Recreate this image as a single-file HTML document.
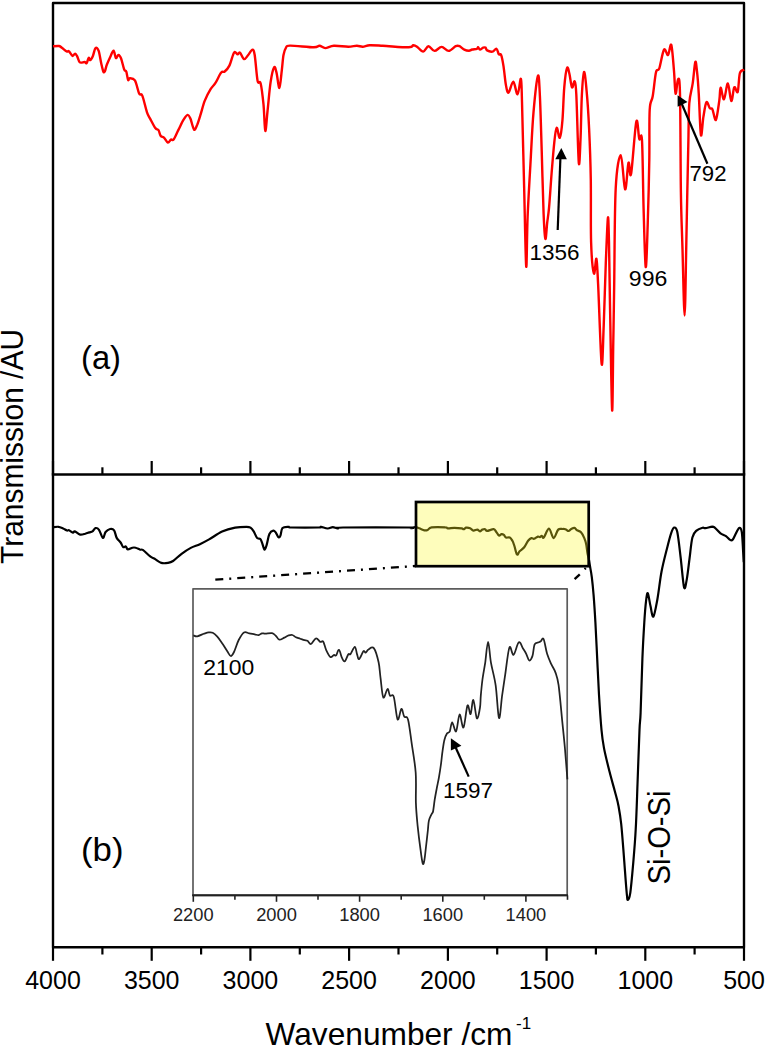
<!DOCTYPE html>
<html><head><meta charset="utf-8"><style>
html,body{margin:0;padding:0;background:#fff;}
svg{display:block;}
text{font-family:"Liberation Sans",sans-serif;}
</style></head><body>
<svg width="765" height="1050" viewBox="0 0 765 1050">
<rect width="765" height="1050" fill="#fff"/>
<!-- frame -->
<g stroke="#000" stroke-width="2.4" fill="none" stroke-linecap="square" stroke-linejoin="round">
<rect x="53" y="3" width="691" height="944.3"/>
<line x1="53" y1="474.5" x2="744" y2="474.5"/>
</g>
<g stroke="#000" stroke-width="2.2"><line x1="53.0" y1="947.3" x2="53.0" y2="960.8"/><line x1="53.0" y1="474.5" x2="53.0" y2="461.0"/><line x1="102.4" y1="947.3" x2="102.4" y2="954.5"/><line x1="102.4" y1="474.5" x2="102.4" y2="467.3"/><line x1="151.7" y1="947.3" x2="151.7" y2="960.8"/><line x1="151.7" y1="474.5" x2="151.7" y2="461.0"/><line x1="201.1" y1="947.3" x2="201.1" y2="954.5"/><line x1="201.1" y1="474.5" x2="201.1" y2="467.3"/><line x1="250.4" y1="947.3" x2="250.4" y2="960.8"/><line x1="250.4" y1="474.5" x2="250.4" y2="461.0"/><line x1="299.8" y1="947.3" x2="299.8" y2="954.5"/><line x1="299.8" y1="474.5" x2="299.8" y2="467.3"/><line x1="349.1" y1="947.3" x2="349.1" y2="960.8"/><line x1="349.1" y1="474.5" x2="349.1" y2="461.0"/><line x1="398.5" y1="947.3" x2="398.5" y2="954.5"/><line x1="398.5" y1="474.5" x2="398.5" y2="467.3"/><line x1="447.9" y1="947.3" x2="447.9" y2="960.8"/><line x1="447.9" y1="474.5" x2="447.9" y2="461.0"/><line x1="497.2" y1="947.3" x2="497.2" y2="954.5"/><line x1="497.2" y1="474.5" x2="497.2" y2="467.3"/><line x1="546.6" y1="947.3" x2="546.6" y2="960.8"/><line x1="546.6" y1="474.5" x2="546.6" y2="461.0"/><line x1="595.9" y1="947.3" x2="595.9" y2="954.5"/><line x1="595.9" y1="474.5" x2="595.9" y2="467.3"/><line x1="645.3" y1="947.3" x2="645.3" y2="960.8"/><line x1="645.3" y1="474.5" x2="645.3" y2="461.0"/><line x1="694.6" y1="947.3" x2="694.6" y2="954.5"/><line x1="694.6" y1="474.5" x2="694.6" y2="467.3"/><line x1="744.0" y1="947.3" x2="744.0" y2="960.8"/><line x1="744.0" y1="474.5" x2="744.0" y2="461.0"/></g>
<g font-size="25" fill="#000"><text x="53.0" y="988.5" text-anchor="middle">4000</text><text x="151.7" y="988.5" text-anchor="middle">3500</text><text x="250.4" y="988.5" text-anchor="middle">3000</text><text x="349.1" y="988.5" text-anchor="middle">2500</text><text x="447.9" y="988.5" text-anchor="middle">2000</text><text x="546.6" y="988.5" text-anchor="middle">1500</text><text x="645.3" y="988.5" text-anchor="middle">1000</text><text x="744.0" y="988.5" text-anchor="middle">500</text></g>
<!-- axis titles -->
<text x="265.5" y="1045" font-size="31.3" textLength="247" lengthAdjust="spacingAndGlyphs">Wavenumber /cm</text>
<text x="516" y="1028.5" font-size="17">-1</text>
<text transform="translate(23.4,564) rotate(-90)" font-size="32" textLength="235" lengthAdjust="spacingAndGlyphs">Transmission /AU</text>
<!-- red spectrum -->
<path d="M53.1 46.3 C54.1 46.2 57.5 45.8 58.9 46.0 C60.3 46.2 60.2 46.6 61.5 47.5 C62.8 48.4 65.5 50.9 66.7 51.5 C67.9 52.1 67.8 50.5 68.8 51.2 C69.8 51.9 71.5 55.5 72.5 55.9 C73.5 56.3 74.3 53.5 75.1 53.6 C75.9 53.7 76.4 54.9 77.2 56.4 C78.0 57.9 78.6 61.5 79.8 62.4 C81.0 63.3 83.4 61.9 84.5 62.0 C85.6 62.1 85.9 63.9 86.6 63.2 C87.3 62.5 88.1 58.3 88.7 57.8 C89.3 57.3 89.6 60.4 90.3 60.1 C91.0 59.8 92.0 57.9 92.9 55.9 C93.8 53.9 94.5 49.0 95.5 48.1 C96.5 47.2 97.6 48.2 98.6 50.7 C99.5 53.2 100.4 59.7 101.2 63.2 C102.0 66.7 102.7 70.3 103.3 71.6 C103.9 72.9 104.3 72.3 104.9 71.1 C105.5 69.9 106.0 66.8 107.0 64.3 C108.0 61.8 109.6 58.2 110.7 55.9 C111.8 53.6 112.7 50.4 113.6 50.7 C114.5 51.1 115.1 57.3 115.9 58.0 C116.7 58.7 117.6 54.8 118.5 54.9 C119.4 55.0 120.1 56.1 121.1 58.5 C122.0 60.9 123.3 67.3 124.2 69.5 C125.1 71.7 125.7 69.9 126.3 71.6 C126.9 73.3 127.5 78.8 128.1 79.9 C128.7 81.0 128.6 78.2 129.7 78.3 C130.8 78.4 133.3 77.9 134.9 80.4 C136.5 82.9 137.9 91.0 139.1 93.5 C140.3 96.0 141.0 92.5 142.3 95.6 C143.6 98.7 145.7 108.5 147.0 112.3 C148.3 116.1 148.7 116.0 150.1 118.6 C151.5 121.2 153.9 126.1 155.3 128.0 C156.7 129.9 157.6 128.8 158.5 130.1 C159.4 131.4 159.7 134.5 160.6 135.8 C161.5 137.1 163.0 136.8 164.2 137.9 C165.4 139.0 166.8 142.3 167.9 142.6 C169.0 142.9 170.1 140.0 171.0 139.5 C171.9 139.0 172.4 141.1 173.6 139.5 C174.8 137.9 176.6 133.4 178.3 130.1 C180.0 126.8 182.0 122.1 183.6 119.6 C185.2 117.1 186.6 115.1 187.7 114.9 C188.8 114.7 189.3 116.2 190.4 118.6 C191.5 121.0 192.9 128.5 194.0 129.5 C195.1 130.5 196.1 127.1 197.2 124.8 C198.2 122.5 199.1 119.4 200.3 115.4 C201.6 111.4 203.0 105.3 204.7 100.9 C206.4 96.5 208.8 92.0 210.6 89.1 C212.4 86.1 213.5 86.0 215.3 83.2 C217.1 80.5 219.6 74.5 221.2 72.6 C222.8 70.6 223.3 72.7 224.7 71.5 C226.1 70.3 227.8 68.8 229.4 65.6 C231.0 62.4 232.7 54.5 234.1 52.6 C235.5 50.7 236.6 54.4 237.6 54.4 C238.6 54.4 238.9 51.8 240.0 52.6 C241.1 53.4 242.7 58.7 244.1 59.1 C245.5 59.5 246.8 56.6 248.2 55.0 C249.6 53.4 251.3 49.7 252.4 49.7 C253.5 49.7 253.8 49.8 254.7 55.0 C255.6 60.2 256.6 76.2 257.6 80.9 C258.6 85.6 259.6 79.3 260.6 83.2 C261.6 87.1 262.7 96.5 263.5 104.4 C264.3 112.4 264.6 129.9 265.3 130.9 C266.0 131.9 266.7 118.4 267.6 110.3 C268.5 102.2 269.5 89.2 270.6 82.1 C271.7 74.9 273.1 69.0 274.1 67.4 C275.1 65.8 275.6 69.2 276.5 72.6 C277.4 76.0 278.5 88.3 279.4 87.9 C280.3 87.5 281.1 75.8 281.8 70.3 C282.5 64.8 282.8 58.7 283.5 55.0 C284.2 51.3 284.8 49.5 285.9 47.9 C287.0 46.3 285.4 45.7 290.0 45.6 C294.6 45.5 308.9 47.3 313.8 47.3 C318.7 47.3 317.6 45.7 319.5 45.8 C321.4 45.9 322.9 48.1 325.3 48.1 C327.7 48.1 330.1 46.0 333.9 45.8 C337.7 45.6 344.5 46.7 348.3 46.7 C352.1 46.7 354.5 45.8 356.9 45.8 C359.3 45.8 360.5 46.8 362.7 46.7 C364.9 46.6 366.4 45.4 369.8 45.2 C373.2 45.1 376.3 45.4 382.8 45.8 C389.3 46.1 403.5 47.4 408.6 47.3 C413.7 47.2 411.9 45.3 413.3 45.2 C414.8 45.1 415.7 45.8 417.3 46.9 C418.9 48.0 421.3 51.7 423.2 51.6 C425.1 51.5 426.6 46.3 428.5 46.2 C430.4 46.1 432.3 50.8 434.5 50.9 C436.7 51.0 439.2 46.9 441.6 46.9 C444.0 46.9 446.2 51.0 448.6 50.9 C451.0 50.8 453.9 47.0 455.7 46.2 C457.5 45.4 458.2 45.6 459.6 46.2 C461.0 46.8 462.7 48.9 464.3 49.6 C465.9 50.4 467.7 50.7 469.0 50.7 C470.3 50.7 470.9 49.8 472.2 49.5 C473.5 49.2 475.9 49.2 476.9 48.8 C477.9 48.4 477.6 47.2 478.1 47.3 C478.6 47.4 479.2 49.5 480.0 49.6 C480.8 49.7 482.2 47.9 483.1 47.6 C484.0 47.3 484.8 47.1 485.5 47.6 C486.2 48.1 485.9 49.7 487.1 50.4 C488.3 51.1 490.9 51.9 492.5 51.6 C494.1 51.3 495.4 48.3 496.5 48.8 C497.6 49.2 498.0 53.2 498.8 54.3 C499.6 55.3 500.4 53.1 501.2 55.1 C502.0 57.1 502.7 61.1 503.5 66.1 C504.3 71.1 505.1 80.5 505.9 84.9 C506.7 89.3 507.3 93.2 508.5 92.7 C509.7 92.2 511.8 81.5 513.3 81.8 C514.8 82.1 516.3 94.8 517.6 94.3 C518.9 93.8 520.2 77.5 520.9 78.8 C521.6 80.1 521.5 84.1 522.0 101.9 C522.5 119.7 523.4 158.3 524.1 185.7 C524.8 213.1 525.6 261.1 526.2 266.3 C526.8 271.5 526.9 233.9 527.6 217.0 C528.3 200.1 529.4 182.1 530.4 164.7 C531.4 147.3 532.2 127.2 533.5 112.4 C534.8 97.6 536.8 78.7 537.9 76.0 C539.0 73.3 539.3 83.7 539.9 96.1 C540.5 108.5 541.1 130.8 541.7 150.4 C542.3 170.0 543.0 198.8 543.6 213.6 C544.2 228.3 544.8 237.4 545.4 238.9 C546.0 240.4 546.6 227.8 547.2 222.7 C547.8 217.6 548.2 216.6 549.0 208.2 C549.8 199.8 550.8 183.2 551.7 172.0 C552.6 160.8 553.6 148.7 554.4 141.3 C555.2 133.9 555.8 128.4 556.7 127.8 C557.6 127.2 558.8 139.1 559.8 137.7 C560.8 136.3 561.8 128.0 562.5 119.6 C563.2 111.2 563.5 95.7 564.3 87.1 C565.0 78.5 566.1 70.3 567.0 68.1 C567.9 65.9 568.6 70.5 569.4 73.7 C570.2 76.9 571.1 86.1 572.0 87.4 C572.9 88.7 573.9 80.2 574.6 81.4 C575.3 82.6 575.6 80.7 576.3 94.3 C577.0 107.9 578.1 155.7 578.8 162.8 C579.5 169.9 580.1 148.5 580.6 137.1 C581.1 125.7 581.3 105.1 581.9 94.3 C582.5 83.5 583.2 72.6 584.0 72.0 C584.8 71.4 585.8 81.4 586.6 90.8 C587.5 100.2 588.4 113.7 589.1 128.5 C589.8 143.3 590.5 161.0 590.8 179.9 C591.1 198.8 590.6 226.4 591.1 242.0 C591.6 257.6 593.0 270.7 593.9 273.5 C594.8 276.3 595.7 257.1 596.4 258.8 C597.1 260.6 597.2 266.5 598.1 284.0 C599.0 301.5 600.7 356.7 601.6 363.7 C602.5 370.7 603.0 342.7 603.7 325.9 C604.4 309.1 605.1 281.0 605.8 263.0 C606.5 245.0 607.4 221.3 607.9 217.8 C608.4 214.3 608.6 227.5 609.0 242.0 C609.4 256.5 609.5 277.0 610.0 305.0 C610.5 333.0 611.6 402.9 612.1 409.9 C612.6 416.9 612.9 367.9 613.2 346.9 C613.6 325.9 613.8 310.4 614.2 284.0 C614.6 257.6 614.6 210.0 615.7 188.5 C616.8 167.0 619.2 155.0 620.8 155.1 C622.4 155.2 623.8 188.0 625.1 189.3 C626.4 190.6 627.5 165.4 628.5 162.8 C629.5 160.2 629.8 180.8 631.1 173.9 C632.4 167.1 634.9 127.5 636.3 121.7 C637.7 115.9 638.3 135.9 639.3 139.0 C640.2 142.1 641.3 128.7 642.0 140.3 C642.7 151.9 643.0 187.5 643.6 208.6 C644.2 229.7 645.0 264.2 645.7 266.9 C646.4 269.6 647.1 242.6 647.7 224.8 C648.3 207.0 649.0 179.2 649.3 160.0 C649.6 140.8 649.1 120.3 649.7 109.7 C650.3 99.1 651.7 102.5 652.7 96.3 C653.8 90.1 654.9 77.0 656.0 72.3 C657.1 67.6 658.0 72.1 659.3 68.3 C660.6 64.5 662.5 51.9 664.0 49.7 C665.5 47.5 666.8 55.8 668.0 55.0 C669.2 54.2 670.3 42.3 671.3 45.0 C672.3 47.7 673.3 62.9 674.0 71.0 C674.7 79.1 674.9 92.4 675.6 93.7 C676.3 95.0 677.3 79.0 678.0 79.0 C678.7 79.0 679.5 74.8 680.0 93.7 C680.5 112.6 680.5 166.5 680.9 192.4 C681.3 218.3 681.9 228.6 682.5 249.1 C683.1 269.6 684.0 315.5 684.6 315.5 C685.2 315.5 685.8 269.6 686.2 249.1 C686.7 228.6 686.9 210.6 687.3 192.4 C687.7 174.2 688.1 154.9 688.4 140.0 C688.7 125.1 688.6 112.6 689.3 103.2 C690.0 93.8 691.7 90.3 692.7 83.4 C693.7 76.5 694.6 64.0 695.3 62.0 C696.0 60.0 696.4 66.2 697.0 71.4 C697.6 76.6 698.1 82.3 698.7 92.9 C699.4 103.5 700.1 130.9 700.9 134.9 C701.7 138.9 702.5 122.3 703.4 116.9 C704.3 111.5 705.3 103.7 706.4 102.3 C707.5 100.9 708.9 107.1 709.9 108.3 C710.9 109.5 711.4 107.3 712.4 109.2 C713.4 111.1 714.8 121.3 715.9 119.9 C717.0 118.5 718.5 106.0 719.3 100.6 C720.1 95.2 719.8 87.9 720.6 87.7 C721.4 87.5 722.8 100.0 724.0 99.3 C725.2 98.6 726.7 83.1 727.9 83.4 C729.1 83.7 730.2 100.3 731.3 101.0 C732.4 101.7 733.2 88.8 734.3 87.3 C735.4 85.8 736.8 94.3 737.7 92.0 C738.6 89.7 738.8 76.9 739.9 73.2 C741.0 69.5 743.5 70.3 744.2 69.7" fill="none" stroke="#f00" stroke-width="2.4" stroke-linejoin="round"/>
<!-- black spectrum -->
<path d="M53.3 527.2 C54.2 527.1 56.9 526.6 58.5 526.8 C60.1 527.0 61.7 527.9 63.1 528.5 C64.5 529.1 66.0 530.2 67.0 530.5 C68.0 530.8 68.0 529.9 69.0 530.3 C70.0 530.7 71.9 532.5 72.9 532.7 C73.9 532.9 73.6 531.1 74.8 531.4 C76.0 531.7 78.3 534.2 80.1 534.6 C81.8 535.0 83.8 534.1 85.3 533.7 C86.8 533.3 88.0 532.8 89.2 532.4 C90.4 532.0 91.5 532.1 92.5 531.4 C93.5 530.7 94.4 528.4 95.5 528.1 C96.6 527.8 97.8 528.2 99.0 529.8 C100.2 531.4 101.8 537.5 102.9 537.9 C104.0 538.3 104.4 533.5 105.6 532.0 C106.8 530.5 108.7 529.3 110.1 529.0 C111.5 528.7 113.0 528.8 114.1 530.3 C115.2 531.8 115.6 535.9 116.7 537.9 C117.8 539.9 119.5 541.0 120.6 542.5 C121.7 544.0 122.3 546.5 123.2 547.1 C124.1 547.8 125.0 546.0 125.8 546.4 C126.6 546.8 126.7 549.2 127.8 549.4 C128.9 549.6 131.1 548.0 132.4 547.7 C133.7 547.4 134.3 547.4 135.6 547.7 C136.9 548.0 139.0 549.3 140.2 549.7 C141.4 550.1 141.1 548.8 142.8 549.9 C144.5 551.0 148.1 554.8 150.2 556.4 C152.3 558.0 153.7 558.3 155.5 559.4 C157.3 560.5 159.2 562.3 161.3 562.9 C163.4 563.5 165.9 563.2 167.9 562.9 C169.9 562.6 170.8 562.5 173.1 561.0 C175.4 559.5 178.6 556.0 181.6 553.8 C184.6 551.6 187.8 549.5 190.8 547.9 C193.9 546.3 196.9 545.6 199.9 544.2 C202.9 542.8 205.4 541.5 209.1 539.4 C212.8 537.3 217.8 533.6 222.1 531.6 C226.4 529.6 231.1 528.4 235.2 527.6 C239.3 526.8 243.9 526.8 246.5 526.8 C249.1 526.8 249.3 526.9 250.5 527.7 C251.7 528.5 252.6 529.7 253.7 531.4 C254.8 533.1 255.9 536.6 257.0 537.9 C258.1 539.2 259.4 538.1 260.3 539.0 C261.2 539.9 261.5 541.3 262.2 543.1 C262.9 544.9 263.8 549.5 264.6 549.7 C265.4 549.9 266.0 547.0 266.8 544.4 C267.6 541.8 268.3 536.3 269.4 534.0 C270.5 531.7 272.2 530.9 273.3 530.7 C274.4 530.5 275.0 531.6 275.9 532.7 C276.8 533.8 277.8 536.9 278.6 537.3 C279.4 537.7 279.9 536.8 280.5 535.3 C281.1 533.8 281.2 529.5 282.5 528.1 C283.8 526.7 286.9 526.9 288.4 526.8 C289.9 526.7 286.6 527.4 291.6 527.5 C296.6 527.6 313.5 527.6 318.4 527.5 C323.3 527.4 319.5 526.6 321.0 526.8 C322.5 527.0 325.6 528.4 327.6 528.5 C329.6 528.6 331.1 527.2 332.8 527.2 C334.5 527.2 336.1 528.5 337.8 528.5 C339.5 528.5 331.2 527.7 343.0 527.5 C354.8 527.3 397.1 527.4 408.4 527.5 C419.7 527.6 409.9 528.2 411.0 528.1 C412.1 528.0 413.8 527.0 415.2 527.0 C416.6 527.0 417.7 527.8 419.2 528.3 C420.7 528.8 423.0 530.0 424.4 530.3 C425.8 530.6 426.4 530.5 427.6 530.0 C428.8 529.5 428.7 527.8 431.6 527.4 C434.6 527.0 442.6 527.2 445.3 527.4 C448.0 527.5 446.4 528.2 447.9 528.3 C449.4 528.4 452.1 527.9 454.4 527.9 C456.7 527.9 460.1 528.1 461.6 528.3 C463.1 528.5 462.8 529.3 463.6 529.2 C464.4 529.1 465.1 527.9 466.2 527.7 C467.3 527.6 468.9 527.8 470.1 528.3 C471.3 528.8 472.2 530.4 473.4 530.6 C474.6 530.8 476.2 529.5 477.3 529.6 C478.4 529.7 479.0 531.3 479.9 531.3 C480.8 531.3 481.6 530.0 482.5 529.6 C483.4 529.2 484.4 529.0 485.2 529.2 C486.0 529.4 485.7 530.9 487.1 530.9 C488.5 530.9 492.2 529.0 493.7 529.2 C495.2 529.4 495.4 530.9 496.3 531.9 C497.2 532.9 498.0 535.1 498.9 535.5 C499.8 535.9 500.7 534.3 501.5 534.2 C502.3 534.1 503.2 534.4 503.9 534.9 C504.6 535.4 504.9 537.1 505.9 537.5 C506.9 537.9 508.7 537.0 509.8 537.5 C510.9 538.0 511.6 539.4 512.4 540.8 C513.2 542.2 513.6 543.7 514.4 546.0 C515.2 548.3 516.1 553.6 517.0 554.5 C517.9 555.4 518.4 552.4 519.6 551.2 C520.8 550.0 522.8 549.0 524.2 547.3 C525.6 545.6 526.9 542.3 528.1 540.8 C529.3 539.3 530.4 538.4 531.4 538.1 C532.4 537.8 532.9 539.0 534.0 538.8 C535.1 538.5 536.9 536.9 537.9 536.6 C538.9 536.3 539.2 537.2 539.9 537.1 C540.5 537.0 541.1 535.7 541.8 535.8 C542.4 535.9 542.6 538.7 543.8 537.5 C545.0 536.3 547.4 528.6 549.0 528.7 C550.6 528.8 552.1 538.0 553.6 538.1 C555.1 538.2 556.7 531.1 558.2 529.6 C559.7 528.1 561.5 529.1 562.7 529.0 C563.9 528.9 564.4 528.9 565.4 529.2 C566.4 529.5 567.6 531.0 568.6 531.0 C569.6 531.0 570.2 529.5 571.2 529.0 C572.2 528.5 573.5 527.7 574.5 527.9 C575.5 528.1 576.0 529.6 577.1 530.3 C578.2 531.0 579.8 531.0 581.0 532.3 C582.2 533.6 583.4 536.0 584.3 538.1 C585.2 540.2 585.8 542.1 586.3 544.7 C586.8 547.3 587.1 551.2 587.6 553.8 C588.1 556.3 588.6 557.9 589.0 560.0 C589.4 562.1 589.5 563.4 590.0 566.3 C590.5 569.1 591.2 572.3 591.8 577.1 C592.4 581.9 593.0 587.7 593.6 595.2 C594.2 602.8 594.8 611.8 595.4 622.4 C596.0 633.0 596.6 646.5 597.2 658.6 C597.8 670.7 598.3 682.9 599.0 694.8 C599.7 706.7 600.7 721.1 601.5 730.0 C602.3 738.9 602.7 741.2 604.0 748.1 C605.3 755.0 607.7 764.4 609.5 771.6 C611.3 778.8 613.4 785.8 614.9 791.5 C616.4 797.2 617.5 800.6 618.5 806.0 C619.5 811.4 620.3 815.6 621.2 824.0 C622.1 832.4 623.0 845.1 623.9 856.6 C624.8 868.1 626.0 885.6 626.7 892.8 C627.4 900.0 627.3 900.0 627.9 900.0 C628.5 900.0 629.4 898.5 630.3 892.8 C631.1 887.1 632.1 876.2 633.0 865.7 C633.9 855.2 635.0 843.1 635.7 829.5 C636.5 815.9 636.9 800.9 637.5 784.3 C638.1 767.7 639.0 741.9 639.5 730.0 C640.0 718.1 640.1 724.8 640.6 712.9 C641.1 701.0 641.8 673.7 642.4 658.6 C643.0 643.5 643.7 632.0 644.3 622.4 C644.9 612.8 645.5 605.6 646.1 600.7 C646.7 595.8 647.1 592.3 647.8 593.2 C648.5 594.1 649.6 602.2 650.5 606.1 C651.4 610.0 652.2 617.8 653.4 616.6 C654.5 615.5 656.0 606.7 657.4 599.2 C658.8 591.7 659.9 580.3 661.5 571.8 C663.1 563.3 665.4 554.8 667.0 548.4 C668.6 542.0 669.9 536.8 671.1 533.3 C672.3 529.8 673.1 527.8 674.1 527.6 C675.1 527.4 676.2 526.9 677.3 532.0 C678.4 537.1 679.6 548.8 680.7 558.0 C681.8 567.2 683.1 584.1 684.1 587.5 C685.1 590.9 686.0 583.5 686.9 578.6 C687.8 573.7 688.7 564.9 689.6 558.0 C690.5 551.1 691.2 542.1 692.4 537.5 C693.5 532.9 694.8 532.2 696.5 530.6 C698.2 529.0 701.1 528.2 702.6 527.8 C704.1 527.4 703.8 528.3 705.4 528.1 C707.0 527.9 710.7 526.8 712.3 526.7 C713.9 526.7 713.6 526.7 715.0 527.8 C716.4 528.9 718.7 531.9 720.5 533.3 C722.3 534.7 724.4 535.0 726.0 536.1 C727.6 537.2 729.0 539.3 730.1 539.9 C731.2 540.5 731.8 540.7 732.8 539.5 C733.8 538.3 735.2 534.6 736.3 532.6 C737.4 530.6 738.5 527.9 739.4 527.8 C740.3 527.7 741.2 528.1 741.8 532.0 C742.4 535.9 742.8 546.2 743.1 551.2 C743.4 556.2 743.7 560.4 743.8 562.2" fill="none" stroke="#000" stroke-width="2.2" stroke-linejoin="round"/>
<!-- yellow box -->
<defs><clipPath id="yb"><rect x="416" y="502" width="172.7" height="64.2"/></clipPath></defs>
<rect x="416" y="502" width="172.7" height="64.2" fill="#fefdbc"/>
<path d="M53.3 527.2 C54.2 527.1 56.9 526.6 58.5 526.8 C60.1 527.0 61.7 527.9 63.1 528.5 C64.5 529.1 66.0 530.2 67.0 530.5 C68.0 530.8 68.0 529.9 69.0 530.3 C70.0 530.7 71.9 532.5 72.9 532.7 C73.9 532.9 73.6 531.1 74.8 531.4 C76.0 531.7 78.3 534.2 80.1 534.6 C81.8 535.0 83.8 534.1 85.3 533.7 C86.8 533.3 88.0 532.8 89.2 532.4 C90.4 532.0 91.5 532.1 92.5 531.4 C93.5 530.7 94.4 528.4 95.5 528.1 C96.6 527.8 97.8 528.2 99.0 529.8 C100.2 531.4 101.8 537.5 102.9 537.9 C104.0 538.3 104.4 533.5 105.6 532.0 C106.8 530.5 108.7 529.3 110.1 529.0 C111.5 528.7 113.0 528.8 114.1 530.3 C115.2 531.8 115.6 535.9 116.7 537.9 C117.8 539.9 119.5 541.0 120.6 542.5 C121.7 544.0 122.3 546.5 123.2 547.1 C124.1 547.8 125.0 546.0 125.8 546.4 C126.6 546.8 126.7 549.2 127.8 549.4 C128.9 549.6 131.1 548.0 132.4 547.7 C133.7 547.4 134.3 547.4 135.6 547.7 C136.9 548.0 139.0 549.3 140.2 549.7 C141.4 550.1 141.1 548.8 142.8 549.9 C144.5 551.0 148.1 554.8 150.2 556.4 C152.3 558.0 153.7 558.3 155.5 559.4 C157.3 560.5 159.2 562.3 161.3 562.9 C163.4 563.5 165.9 563.2 167.9 562.9 C169.9 562.6 170.8 562.5 173.1 561.0 C175.4 559.5 178.6 556.0 181.6 553.8 C184.6 551.6 187.8 549.5 190.8 547.9 C193.9 546.3 196.9 545.6 199.9 544.2 C202.9 542.8 205.4 541.5 209.1 539.4 C212.8 537.3 217.8 533.6 222.1 531.6 C226.4 529.6 231.1 528.4 235.2 527.6 C239.3 526.8 243.9 526.8 246.5 526.8 C249.1 526.8 249.3 526.9 250.5 527.7 C251.7 528.5 252.6 529.7 253.7 531.4 C254.8 533.1 255.9 536.6 257.0 537.9 C258.1 539.2 259.4 538.1 260.3 539.0 C261.2 539.9 261.5 541.3 262.2 543.1 C262.9 544.9 263.8 549.5 264.6 549.7 C265.4 549.9 266.0 547.0 266.8 544.4 C267.6 541.8 268.3 536.3 269.4 534.0 C270.5 531.7 272.2 530.9 273.3 530.7 C274.4 530.5 275.0 531.6 275.9 532.7 C276.8 533.8 277.8 536.9 278.6 537.3 C279.4 537.7 279.9 536.8 280.5 535.3 C281.1 533.8 281.2 529.5 282.5 528.1 C283.8 526.7 286.9 526.9 288.4 526.8 C289.9 526.7 286.6 527.4 291.6 527.5 C296.6 527.6 313.5 527.6 318.4 527.5 C323.3 527.4 319.5 526.6 321.0 526.8 C322.5 527.0 325.6 528.4 327.6 528.5 C329.6 528.6 331.1 527.2 332.8 527.2 C334.5 527.2 336.1 528.5 337.8 528.5 C339.5 528.5 331.2 527.7 343.0 527.5 C354.8 527.3 397.1 527.4 408.4 527.5 C419.7 527.6 409.9 528.2 411.0 528.1 C412.1 528.0 413.8 527.0 415.2 527.0 C416.6 527.0 417.7 527.8 419.2 528.3 C420.7 528.8 423.0 530.0 424.4 530.3 C425.8 530.6 426.4 530.5 427.6 530.0 C428.8 529.5 428.7 527.8 431.6 527.4 C434.6 527.0 442.6 527.2 445.3 527.4 C448.0 527.5 446.4 528.2 447.9 528.3 C449.4 528.4 452.1 527.9 454.4 527.9 C456.7 527.9 460.1 528.1 461.6 528.3 C463.1 528.5 462.8 529.3 463.6 529.2 C464.4 529.1 465.1 527.9 466.2 527.7 C467.3 527.6 468.9 527.8 470.1 528.3 C471.3 528.8 472.2 530.4 473.4 530.6 C474.6 530.8 476.2 529.5 477.3 529.6 C478.4 529.7 479.0 531.3 479.9 531.3 C480.8 531.3 481.6 530.0 482.5 529.6 C483.4 529.2 484.4 529.0 485.2 529.2 C486.0 529.4 485.7 530.9 487.1 530.9 C488.5 530.9 492.2 529.0 493.7 529.2 C495.2 529.4 495.4 530.9 496.3 531.9 C497.2 532.9 498.0 535.1 498.9 535.5 C499.8 535.9 500.7 534.3 501.5 534.2 C502.3 534.1 503.2 534.4 503.9 534.9 C504.6 535.4 504.9 537.1 505.9 537.5 C506.9 537.9 508.7 537.0 509.8 537.5 C510.9 538.0 511.6 539.4 512.4 540.8 C513.2 542.2 513.6 543.7 514.4 546.0 C515.2 548.3 516.1 553.6 517.0 554.5 C517.9 555.4 518.4 552.4 519.6 551.2 C520.8 550.0 522.8 549.0 524.2 547.3 C525.6 545.6 526.9 542.3 528.1 540.8 C529.3 539.3 530.4 538.4 531.4 538.1 C532.4 537.8 532.9 539.0 534.0 538.8 C535.1 538.5 536.9 536.9 537.9 536.6 C538.9 536.3 539.2 537.2 539.9 537.1 C540.5 537.0 541.1 535.7 541.8 535.8 C542.4 535.9 542.6 538.7 543.8 537.5 C545.0 536.3 547.4 528.6 549.0 528.7 C550.6 528.8 552.1 538.0 553.6 538.1 C555.1 538.2 556.7 531.1 558.2 529.6 C559.7 528.1 561.5 529.1 562.7 529.0 C563.9 528.9 564.4 528.9 565.4 529.2 C566.4 529.5 567.6 531.0 568.6 531.0 C569.6 531.0 570.2 529.5 571.2 529.0 C572.2 528.5 573.5 527.7 574.5 527.9 C575.5 528.1 576.0 529.6 577.1 530.3 C578.2 531.0 579.8 531.0 581.0 532.3 C582.2 533.6 583.4 536.0 584.3 538.1 C585.2 540.2 585.8 542.1 586.3 544.7 C586.8 547.3 587.1 551.2 587.6 553.8 C588.1 556.3 588.6 557.9 589.0 560.0 C589.4 562.1 589.5 563.4 590.0 566.3 C590.5 569.1 591.2 572.3 591.8 577.1 C592.4 581.9 593.0 587.7 593.6 595.2 C594.2 602.8 594.8 611.8 595.4 622.4 C596.0 633.0 596.6 646.5 597.2 658.6 C597.8 670.7 598.3 682.9 599.0 694.8 C599.7 706.7 600.7 721.1 601.5 730.0 C602.3 738.9 602.7 741.2 604.0 748.1 C605.3 755.0 607.7 764.4 609.5 771.6 C611.3 778.8 613.4 785.8 614.9 791.5 C616.4 797.2 617.5 800.6 618.5 806.0 C619.5 811.4 620.3 815.6 621.2 824.0 C622.1 832.4 623.0 845.1 623.9 856.6 C624.8 868.1 626.0 885.6 626.7 892.8 C627.4 900.0 627.3 900.0 627.9 900.0 C628.5 900.0 629.4 898.5 630.3 892.8 C631.1 887.1 632.1 876.2 633.0 865.7 C633.9 855.2 635.0 843.1 635.7 829.5 C636.5 815.9 636.9 800.9 637.5 784.3 C638.1 767.7 639.0 741.9 639.5 730.0 C640.0 718.1 640.1 724.8 640.6 712.9 C641.1 701.0 641.8 673.7 642.4 658.6 C643.0 643.5 643.7 632.0 644.3 622.4 C644.9 612.8 645.5 605.6 646.1 600.7 C646.7 595.8 647.1 592.3 647.8 593.2 C648.5 594.1 649.6 602.2 650.5 606.1 C651.4 610.0 652.2 617.8 653.4 616.6 C654.5 615.5 656.0 606.7 657.4 599.2 C658.8 591.7 659.9 580.3 661.5 571.8 C663.1 563.3 665.4 554.8 667.0 548.4 C668.6 542.0 669.9 536.8 671.1 533.3 C672.3 529.8 673.1 527.8 674.1 527.6 C675.1 527.4 676.2 526.9 677.3 532.0 C678.4 537.1 679.6 548.8 680.7 558.0 C681.8 567.2 683.1 584.1 684.1 587.5 C685.1 590.9 686.0 583.5 686.9 578.6 C687.8 573.7 688.7 564.9 689.6 558.0 C690.5 551.1 691.2 542.1 692.4 537.5 C693.5 532.9 694.8 532.2 696.5 530.6 C698.2 529.0 701.1 528.2 702.6 527.8 C704.1 527.4 703.8 528.3 705.4 528.1 C707.0 527.9 710.7 526.8 712.3 526.7 C713.9 526.7 713.6 526.7 715.0 527.8 C716.4 528.9 718.7 531.9 720.5 533.3 C722.3 534.7 724.4 535.0 726.0 536.1 C727.6 537.2 729.0 539.3 730.1 539.9 C731.2 540.5 731.8 540.7 732.8 539.5 C733.8 538.3 735.2 534.6 736.3 532.6 C737.4 530.6 738.5 527.9 739.4 527.8 C740.3 527.7 741.2 528.1 741.8 532.0 C742.4 535.9 742.8 546.2 743.1 551.2 C743.4 556.2 743.7 560.4 743.8 562.2" fill="none" stroke="#58540a" stroke-width="2.2" stroke-linejoin="round" clip-path="url(#yb)"/>
<rect x="416" y="502" width="172.7" height="64.2" fill="none" stroke="#000" stroke-width="2.7"/>
<!-- dash-dot line -->
<line x1="215.3" y1="579.7" x2="416" y2="566" stroke="#000" stroke-width="2.3" stroke-dasharray="8 6 2 6"/>
<g stroke="#000" stroke-width="2.3"><line x1="574.6" y1="579.2" x2="579.8" y2="574.3"/><line x1="584.6" y1="569.3" x2="585.8" y2="568.1"/></g>
<!-- inset -->
<rect x="193.0" y="588.8" width="374.2" height="306.5" fill="#fff" stroke="#5c5c5c" stroke-width="1.7" stroke-linejoin="round"/>
<line x1="192.2" y1="895.3" x2="568" y2="895.3" stroke="#222" stroke-width="1.9"/>
<g stroke="#222" stroke-width="1.6"><line x1="193.3" y1="895.3" x2="193.3" y2="901.8"/><line x1="234.9" y1="895.3" x2="234.9" y2="899.8"/><line x1="276.5" y1="895.3" x2="276.5" y2="901.8"/><line x1="318.0" y1="895.3" x2="318.0" y2="899.8"/><line x1="359.6" y1="895.3" x2="359.6" y2="901.8"/><line x1="401.2" y1="895.3" x2="401.2" y2="899.8"/><line x1="442.8" y1="895.3" x2="442.8" y2="901.8"/><line x1="484.3" y1="895.3" x2="484.3" y2="899.8"/><line x1="525.9" y1="895.3" x2="525.9" y2="901.8"/><line x1="567.5" y1="895.3" x2="567.5" y2="899.8"/></g>
<g font-size="18.3" fill="#222"><text x="193.3" y="920.6" text-anchor="middle">2200</text><text x="276.5" y="920.6" text-anchor="middle">2000</text><text x="359.6" y="920.6" text-anchor="middle">1800</text><text x="442.8" y="920.6" text-anchor="middle">1600</text><text x="525.9" y="920.6" text-anchor="middle">1400</text></g>
<path d="M193.3 635.3 C194.0 635.5 195.5 636.6 197.3 636.3 C199.1 636.0 202.1 634.4 204.0 633.7 C205.9 633.1 207.2 632.6 208.7 632.4 C210.1 632.2 211.3 632.0 212.7 632.7 C214.1 633.4 215.6 634.8 217.3 636.7 C219.0 638.6 221.0 641.6 222.7 644.0 C224.4 646.4 226.0 649.3 227.3 651.3 C228.6 653.3 229.6 655.9 230.7 656.0 C231.8 656.1 232.7 654.7 234.0 652.0 C235.3 649.3 237.0 643.3 238.7 640.0 C240.4 636.7 242.2 633.5 244.0 632.4 C245.8 631.3 247.5 633.0 249.3 633.3 C251.1 633.6 253.1 634.1 254.7 634.4 C256.3 634.7 257.5 635.3 258.7 635.1 C259.9 634.9 260.9 633.5 262.0 633.3 C263.1 633.1 263.6 633.7 265.3 633.7 C267.0 633.7 270.2 632.7 272.0 633.1 C273.8 633.5 274.8 634.9 276.0 636.0 C277.2 637.1 277.9 639.4 279.3 639.7 C280.7 640.0 282.8 638.3 284.4 637.6 C286.0 636.9 287.4 635.8 288.7 635.4 C290.0 635.0 291.1 634.7 292.3 635.0 C293.5 635.3 294.6 636.7 295.9 637.3 C297.2 637.9 298.8 638.2 300.2 638.7 C301.6 639.2 303.3 639.9 304.5 640.2 C305.7 640.5 306.3 640.1 307.4 640.7 C308.5 641.3 309.6 644.4 311.0 644.0 C312.4 643.6 314.4 638.6 316.0 638.3 C317.6 637.9 319.1 641.3 320.3 641.9 C321.5 642.5 322.2 640.3 323.2 641.6 C324.2 642.9 324.9 647.2 326.1 649.8 C327.3 652.4 329.1 656.2 330.4 657.0 C331.7 657.8 333.1 655.0 334.0 654.8 C334.9 654.5 335.3 656.3 336.1 655.5 C336.9 654.7 338.0 649.4 339.0 649.8 C340.0 650.2 340.9 655.8 341.9 657.7 C342.9 659.6 343.7 661.9 344.8 661.3 C345.9 660.7 347.4 655.3 348.4 654.1 C349.3 652.9 349.4 655.3 350.5 654.1 C351.6 652.9 353.7 646.9 354.8 646.9 C355.9 646.9 356.3 652.1 357.0 654.1 C357.7 656.1 358.0 659.6 359.1 659.1 C360.2 658.6 362.4 652.3 363.5 651.2 C364.6 650.1 364.8 653.0 365.6 652.7 C366.4 652.4 367.1 650.2 368.5 649.4 C369.9 648.6 372.1 646.0 373.8 648.1 C375.5 650.2 377.5 657.4 378.6 662.3 C379.7 667.2 379.7 671.7 380.5 677.6 C381.3 683.5 382.1 695.6 383.3 697.5 C384.5 699.4 386.4 689.3 387.5 689.0 C388.6 688.7 388.9 694.3 390.0 695.6 C391.1 696.9 392.5 693.0 393.8 697.0 C395.1 701.0 396.3 717.4 397.6 719.4 C398.9 721.4 400.3 709.4 401.4 708.9 C402.5 708.4 403.1 714.9 404.2 716.6 C405.3 718.4 406.7 714.8 408.0 719.4 C409.3 724.0 410.5 735.2 411.8 744.1 C413.1 753.0 415.0 762.9 415.7 772.7 C416.4 782.5 415.6 794.1 415.9 802.9 C416.2 811.7 416.9 818.1 417.6 825.7 C418.4 833.3 419.5 842.3 420.4 848.6 C421.2 854.9 422.0 861.5 422.7 863.4 C423.4 865.3 423.8 863.1 424.4 860.0 C425.0 856.9 425.6 850.0 426.2 845.0 C426.8 840.0 427.4 834.1 427.9 830.0 C428.3 825.9 428.3 823.2 428.9 820.6 C429.5 818.0 430.8 815.9 431.5 814.3 C432.2 812.7 432.6 813.6 433.1 811.2 C433.6 808.8 434.1 803.6 434.7 799.7 C435.3 795.9 436.1 791.8 436.8 788.1 C437.5 784.4 438.2 781.7 438.9 777.7 C439.6 773.7 440.4 768.4 441.0 764.0 C441.6 759.6 441.9 755.4 442.5 751.4 C443.1 747.4 443.6 743.0 444.4 740.0 C445.2 737.0 446.2 734.7 447.1 733.3 C448.0 731.9 449.0 733.2 449.8 731.4 C450.6 729.6 451.1 722.4 452.2 722.4 C453.2 722.4 454.9 732.7 456.1 731.4 C457.3 730.1 458.4 715.1 459.6 714.5 C460.8 713.9 462.2 729.0 463.5 727.5 C464.8 726.0 466.3 707.7 467.5 705.5 C468.7 703.3 469.6 715.0 470.6 714.1 C471.6 713.2 472.2 699.3 473.3 700.0 C474.4 700.7 475.8 717.1 476.9 718.4 C478.0 719.6 479.4 711.3 480.0 707.5 C480.6 703.7 480.4 700.3 480.8 695.7 C481.2 691.1 481.7 685.5 482.4 680.0 C483.1 674.5 484.2 669.2 485.2 662.9 C486.1 656.5 487.1 641.9 488.1 641.9 C489.1 641.9 489.7 655.6 491.0 662.9 C492.3 670.2 494.4 676.5 495.7 685.7 C497.0 694.9 497.9 716.4 499.0 718.1 C500.1 719.8 501.1 702.9 502.1 695.7 C503.1 688.5 504.0 682.7 505.2 674.7 C506.4 666.7 508.0 650.8 509.4 647.5 C510.8 644.2 512.0 655.7 513.6 654.8 C515.2 653.9 517.2 643.3 518.8 642.3 C520.4 641.2 521.8 646.6 523.0 648.5 C524.2 650.4 525.2 651.8 526.2 653.8 C527.2 655.8 528.2 660.1 529.3 660.5 C530.3 660.9 531.6 658.6 532.5 655.9 C533.4 653.2 533.6 646.6 534.6 644.3 C535.6 642.0 537.7 642.8 538.7 642.3 C539.7 641.8 540.0 641.7 540.8 641.2 C541.6 640.7 542.5 637.0 543.6 639.1 C544.7 641.2 545.8 649.6 547.1 653.8 C548.4 658.0 549.9 661.1 551.3 664.2 C552.7 667.3 554.3 669.1 555.5 672.6 C556.7 676.1 557.6 677.9 558.6 685.2 C559.6 692.5 560.8 706.1 561.8 716.6 C562.8 727.1 564.0 737.5 564.9 748.0 C565.8 758.5 567.0 774.2 567.4 779.4" fill="none" stroke="#222" stroke-width="1.75" stroke-linejoin="round"/>
<!-- annotations -->
<g font-size="22" fill="#000">
<text x="529.4" y="260" textLength="50" lengthAdjust="spacingAndGlyphs">1356</text>
<text x="628.8" y="286.3" textLength="38.5" lengthAdjust="spacingAndGlyphs">996</text>
<text x="689.5" y="181.1" textLength="37" lengthAdjust="spacingAndGlyphs">792</text>
<text x="203.2" y="675" textLength="51" lengthAdjust="spacingAndGlyphs">2100</text>
<text x="443.1" y="798.1" textLength="50" lengthAdjust="spacingAndGlyphs">1597</text>
</g>
<g font-size="33.5" fill="#000">
<text x="81" y="368.5" textLength="40" lengthAdjust="spacingAndGlyphs">(a)</text>
<text x="81" y="861" textLength="42.5" lengthAdjust="spacingAndGlyphs">(b)</text>
</g>
<text transform="translate(670.3,884.5) rotate(-90)" font-size="32" textLength="94" lengthAdjust="spacingAndGlyphs">Si-O-Si</text>
<!-- arrows -->
<g stroke="#000" stroke-width="2.2" fill="#000">
<line x1="557.7" y1="230" x2="560.4" y2="158"/>
<polygon points="561.3,148 555.3,159.3 566.9,159.3" stroke="none"/>
<line x1="707.4" y1="163.8" x2="681" y2="102"/>
<polygon points="677.6,95.2 677.6,106.7 687.5,102" stroke="none"/>
<line x1="468.7" y1="776.6" x2="455" y2="746"/>
<polygon points="450.9,738.3 450.9,750.4 461.4,745.7" stroke="none"/>
</g>
</svg>
</body></html>
